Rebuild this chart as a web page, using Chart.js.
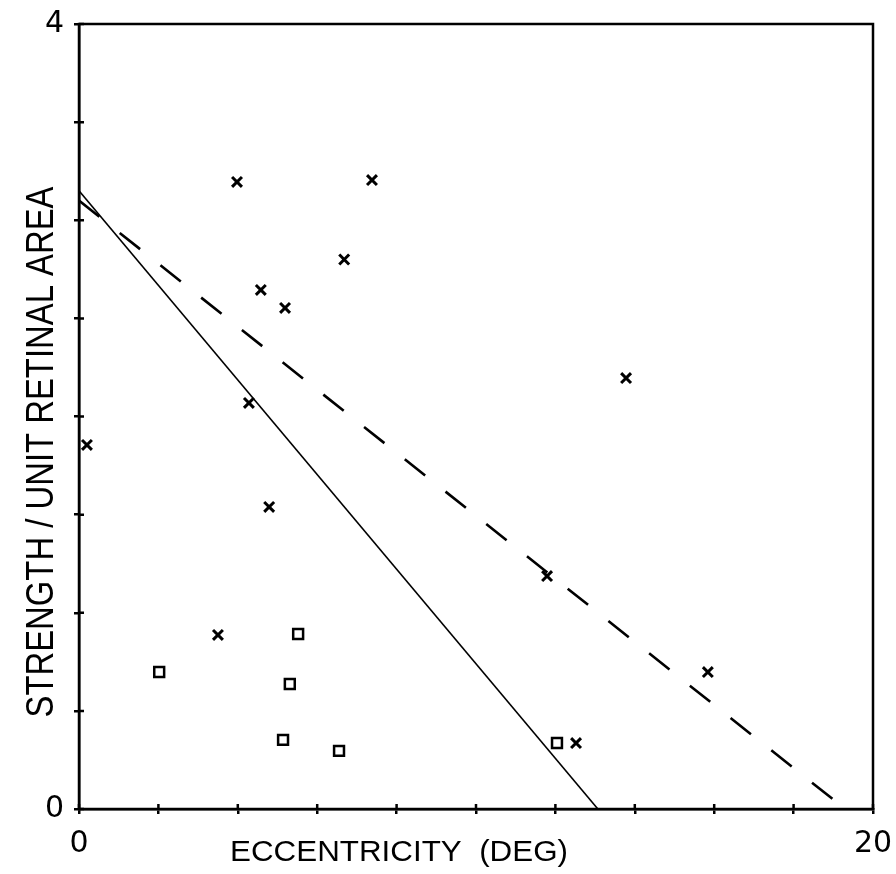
<!DOCTYPE html>
<html>
<head>
<meta charset="utf-8">
<script src="https://cdn.jsdelivr.net/npm/chart.js@4.4.1/dist/chart.umd.min.js"></script>
<style>
	html, body { margin: 0; padding: 0; background: #fff; }
	#wrap { width: 896px; height: 874px; position: relative; }
</style>
</head>
<body>
<div id="wrap"><canvas id="eccentricity-chart"></canvas></div>
<script>
// crosses (x markers)
var crossEcc = [0.2, 3.5, 3.98, 4.28, 4.58, 4.79, 5.19, 6.68, 7.38, 11.79, 12.52, 13.78, 15.84];
var crossStrength = [1.855, 0.887, 3.195, 2.069, 2.645, 1.539, 2.553, 2.80, 3.205, 1.187, 0.336, 2.196, 0.698];

// open squares
var squareEcc = [2.02, 5.14, 5.31, 5.52, 6.55, 12.04];
var squareStrength = [0.698, 0.352, 0.637, 0.892, 0.296, 0.336];

// fitted lines
var solidFitEcc = [0, 13.07];
var solidFitStrength = [3.15, 0];
var dashedFitEcc = [0, 19.3];
var dashedFitStrength = [3.10, 0];

var xTickLabels = ['0', '20'];
var yTickLabels = ['0', '4'];
var xTitle = 'ECCENTRICITY  (DEG)';
var yTitle = 'STRENGTH / UNIT RETINAL AREA';

function toPoints(xs, ys) {
	var points = [];
	for (let i = 0; i < xs.length; i++) {
		points.push({x: xs[i], y: ys[i]});
	}
	return points;
}

function drawFittedText(ctx, text, cx, cy, width, font, angle) {
	ctx.save();
	ctx.translate(cx, cy);
	ctx.rotate(angle);
	ctx.font = font;
	var w = ctx.measureText(text).width;
	ctx.scale(width / w, 1);
	ctx.textAlign = 'center';
	ctx.textBaseline = 'middle';
	ctx.fillStyle = '#000';
	ctx.fillText(text, 0, 0);
	ctx.restore();
}

// box round the plot, inner half of the ticks and the axis titles
var framePlugin = {
	id: 'frame',
	afterDraw: function(chart) {
		var ctx = chart.ctx,
			area = chart.chartArea,
			xScale = chart.scales.x,
			yScale = chart.scales.y;

		ctx.save();
		ctx.strokeStyle = '#000';
		ctx.lineWidth = 2.5;
		ctx.strokeRect(area.left, area.top, area.right - area.left, area.bottom - area.top);

		ctx.beginPath();
		xScale.ticks.forEach(function(tick) {
			var px = xScale.getPixelForValue(tick.value);
			ctx.moveTo(px, area.bottom);
			ctx.lineTo(px, area.bottom - 5);
		});
		yScale.ticks.forEach(function(tick) {
			var py = yScale.getPixelForValue(tick.value);
			ctx.moveTo(area.left, py);
			ctx.lineTo(area.left + 5, py);
		});
		ctx.stroke();
		ctx.restore();

		drawFittedText(ctx, xTitle, 399, 853, 338, '30px "Liberation Sans", Arial, sans-serif', 0);
		drawFittedText(ctx, yTitle, 43, 452, 531, '38px "Liberation Sans", Arial, sans-serif', -Math.PI / 2);
	}
};

var tickFont = {family: '"DejaVu Sans", sans-serif', size: 30};

new Chart(document.getElementById('eccentricity-chart'), {
	type: 'scatter',
	data: {
		datasets: [
			{
				label: 'crosses',
				data: toPoints(crossEcc, crossStrength),
				pointStyle: 'crossRot',
				radius: 7,
				borderWidth: 3,
				borderColor: '#000',
				backgroundColor: '#000'
			},
			{
				label: 'squares',
				data: toPoints(squareEcc, squareStrength),
				pointStyle: 'rect',
				radius: 7,
				borderWidth: 2.5,
				borderColor: '#000',
				backgroundColor: '#fff'
			},
			{
				label: 'solid fit',
				data: toPoints(solidFitEcc, solidFitStrength),
				showLine: true,
				borderColor: '#000',
				borderWidth: 1.6,
				radius: 0,
				fill: false
			},
			{
				label: 'dashed fit',
				data: toPoints(dashedFitEcc, dashedFitStrength),
				showLine: true,
				borderColor: '#000',
				borderWidth: 2.6,
				borderDash: [26, 26],
				radius: 0,
				fill: false
			}
		]
	},
	options: {
		responsive: true,
		maintainAspectRatio: false,
		animation: false,
		layout: {
			padding: {top: 24, right: 23, left: 0, bottom: 0}
		},
		plugins: {
			legend: {display: false},
			tooltip: {enabled: false}
		},
		scales: {
			x: {
				type: 'linear',
				min: 0,
				max: 20,
				afterFit: function(scale) {
					scale.height = 65;
					scale.paddingLeft = 0;
					scale.paddingRight = 0;
				},
				border: {display: true, color: '#000', width: 2.5},
				grid: {drawOnChartArea: false, drawTicks: true, tickLength: 5, color: '#000', lineWidth: 2.5},
				ticks: {
					stepSize: 2,
					autoSkip: false,
					maxRotation: 0,
					padding: 12,
					color: '#000',
					font: tickFont,
					callback: function(value) {
						var label = String(value);
						return xTickLabels.indexOf(label) >= 0 ? label : '';
					}
				}
			},
			y: {
				type: 'linear',
				min: 0,
				max: 4,
				afterFit: function(scale) {
					scale.width = 79;
					scale.paddingTop = 0;
					scale.paddingBottom = 0;
				},
				border: {display: true, color: '#000', width: 2.5},
				grid: {drawOnChartArea: false, drawTicks: true, tickLength: 5, color: '#000', lineWidth: 2.5},
				ticks: {
					stepSize: 0.5,
					autoSkip: false,
					padding: 10,
					color: '#000',
					font: tickFont,
					callback: function(value) {
						var label = String(value);
						return yTickLabels.indexOf(label) >= 0 ? label : '';
					}
				}
			}
		}
	},
	plugins: [framePlugin]
});
</script>
</body>
</html>
